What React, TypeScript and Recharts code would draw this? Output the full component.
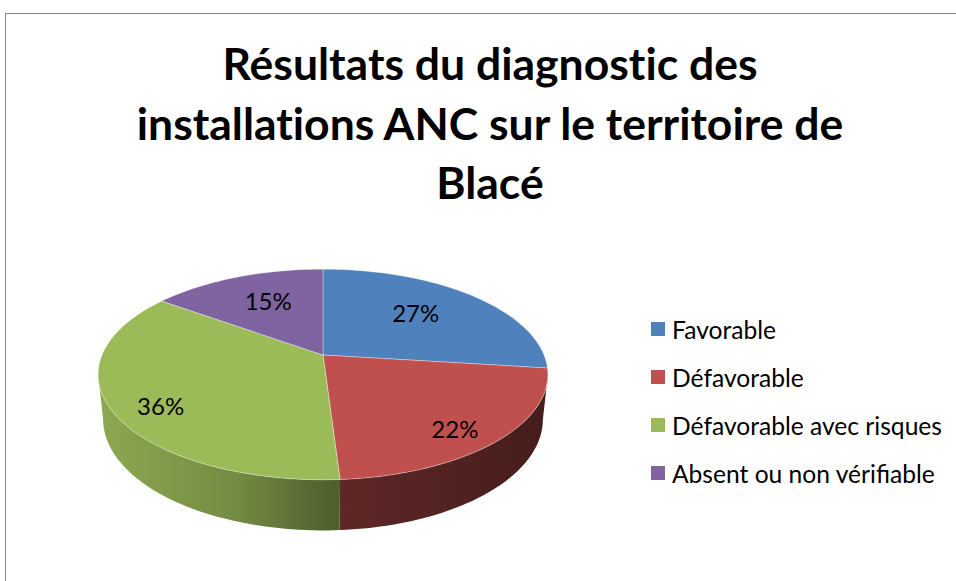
import React from 'react';
import { PieChart, Pie, Cell, Legend } from 'recharts';

const categories = ['Favorable', 'Défavorable', 'Défavorable avec risques', 'Absent ou non vérifiable'];
const shares = [27, 22, 36, 15];
const colors = ['#4F81BD', '#C0504D', '#9BBB59', '#8064A2'];
const titleLines = ['Résultats du diagnostic des', 'installations ANC sur le territoire de', 'Blacé'];

const data = categories.map((name, i) => ({ name, value: shares[i], idx: i }));

// simple perspective for the tilted disc
const RAD = Math.PI / 180;
const TILT = 27.4 * RAD;
const SIN_T = Math.sin(TILT);
const COS_T = Math.cos(TILT);
const DIST = 4.8;
const DEPTH = 0.23;
const EDGE = Math.asin(COS_T / DIST) / RAD; // silhouette angle
const CX = 323;
const CY = 355;
const R = 221;
const FONT = 'Lato, sans-serif';

function project(cx: number, cy: number, rad: number, deg: number, r = 1, h = 0) {
  const a = deg * RAD;
  const X = r * Math.cos(a);
  const Y = r * Math.sin(a);
  const yc = Y * SIN_T + h * COS_T;
  const zc = DIST + Y * COS_T - h * SIN_T;
  const f = (rad * DIST) / zc;
  return [cx + X * f, cy - yc * f];
}

function shade(hex: string, k: number) {
  const n = parseInt(hex.slice(1), 16);
  const r = Math.round(((n >> 16) & 255) * k);
  const g = Math.round(((n >> 8) & 255) * k);
  const b = Math.round((n & 255) * k);
  return `rgb(${r},${g},${b})`;
}

function arcPoints(cx: number, cy: number, rad: number, from: number, to: number, h: number) {
  const n = Math.max(2, Math.ceil(Math.abs(to - from) / 1.5));
  const pts: string[] = [];
  for (let i = 0; i <= n; i++) {
    const [x, y] = project(cx, cy, rad, from + ((to - from) * i) / n, 1, h);
    pts.push(`${x.toFixed(2)},${y.toFixed(2)}`);
  }
  return pts;
}

function TopSlice(props: any) {
  const { cx, cy, outerRadius, startAngle, endAngle } = props;
  const i = props.idx ?? props.payload?.idx ?? props.index ?? 0;
  const pts = arcPoints(cx, cy, outerRadius, startAngle, endAngle, 0);
  const d = `M${cx},${cy}L${pts.join('L')}Z`;
  return <path d={d} fill={colors[i]} stroke="#ffffff" strokeOpacity={0.45} strokeWidth={0.8} />;
}

function SideSlice(props: any) {
  const { cx, cy, outerRadius, startAngle, endAngle } = props;
  const i = props.idx ?? props.payload?.idx ?? props.index ?? 0;
  const a = Math.max(Math.min(startAngle, endAngle), -180 + EDGE);
  const b = Math.min(Math.max(startAngle, endAngle), -EDGE);
  if (b <= a) return <g />;
  const top = arcPoints(cx, cy, outerRadius, a, b, 0);
  const bottom = arcPoints(cx, cy, outerRadius, b, a, -DEPTH);
  const d = `M${top.join('L')}L${bottom.join('L')}Z`;
  return <path d={d} fill={`url(#side-${i})`} />;
}

function renderLabel(props: any) {
  const { cx, cy, outerRadius, midAngle, percent } = props;
  const upper = Math.sin(midAngle * RAD) > 0;
  const [x, y] = project(cx, cy, outerRadius, midAngle, upper ? 0.6 : 0.78, 0);
  return (
    <text
      x={x}
      y={y + (upper ? -5 : 9)}
      textAnchor="middle"
      dominantBaseline="central"
      fill="#000"
      fontFamily={FONT}
      fontSize={24}
    >
      {`${Math.round(percent * 100)}%`}
    </text>
  );
}

function renderLegend() {
  return (
    <div style={{ fontFamily: FONT, fontSize: 24.6, color: '#000' }}>
      {categories.map((name, i) => (
        <div key={name} style={{ display: 'flex', alignItems: 'center', height: 48 }}>
          <span style={{ width: 14, height: 14, background: colors[i], marginRight: 7, flexShrink: 0 }} />
          <span style={{ whiteSpace: 'nowrap' }}>{name}</span>
        </div>
      ))}
    </div>
  );
}

export default function App() {
  return (
    <div style={{ position: 'absolute', left: 0, top: 0, width: 956, height: 581, overflow: 'hidden', background: '#fff' }}>
      <div
        style={{
          position: 'absolute',
          left: 5,
          top: 13,
          width: 1000,
          height: 1000,
          border: '1px solid #868686',
        }}
      />
      <svg width={956} height={230} style={{ position: 'absolute', left: 0, top: 0 }}>
        {titleLines.map((line, i) => (
          <text
            key={line}
            x={490}
            y={80 + i * 59.5}
            textAnchor="middle"
            fontFamily={FONT}
            fontWeight={700}
            fontSize={44.5}
            fill="#000"
            style={{ fontVariantLigatures: 'none' }}
          >
            {line}
          </text>
        ))}
      </svg>
      <div style={{ position: 'absolute', left: 0, top: 0 }}>
        <PieChart width={956} height={581} margin={{ top: 0, right: 0, bottom: 0, left: 0 }}>
          <defs>
            {colors.map((c, i) => (
              <linearGradient key={c} id={`side-${i}`} gradientUnits="userSpaceOnUse" x1={CX - R} y1={0} x2={CX + R} y2={0}>
                <stop offset="0%" stopColor={shade(c, 0.9)} />
                <stop offset="30%" stopColor={shade(c, 0.75)} />
                <stop offset="53%" stopColor={shade(c, 0.5)} />
                <stop offset="100%" stopColor={shade(c, 0.36)} />
              </linearGradient>
            ))}
          </defs>
          <Pie
            data={data}
            dataKey="value"
            nameKey="name"
            cx={CX}
            cy={CY}
            outerRadius={R}
            startAngle={90}
            endAngle={-270}
            legendType="none"
            shape={SideSlice}
            activeShape={SideSlice}
            inactiveShape={SideSlice}
            label={false}
            labelLine={false}
            isAnimationActive={false}
          >
            {data.map((d, i) => (
              <Cell key={d.name} fill={colors[i]} />
            ))}
          </Pie>
          <Pie
            data={data}
            dataKey="value"
            nameKey="name"
            cx={CX}
            cy={CY}
            outerRadius={R}
            startAngle={90}
            endAngle={-270}
            shape={TopSlice}
            activeShape={TopSlice}
            inactiveShape={TopSlice}
            label={renderLabel}
            labelLine={false}
            isAnimationActive={false}
          >
            {data.map((d, i) => (
              <Cell key={d.name} fill={colors[i]} />
            ))}
          </Pie>
          <Legend
            layout="vertical"
            align="right"
            verticalAlign="top"
            content={renderLegend}
            wrapperStyle={{ left: 651, top: 305, width: 305 }}
          />
        </PieChart>
      </div>
    </div>
  );
}
